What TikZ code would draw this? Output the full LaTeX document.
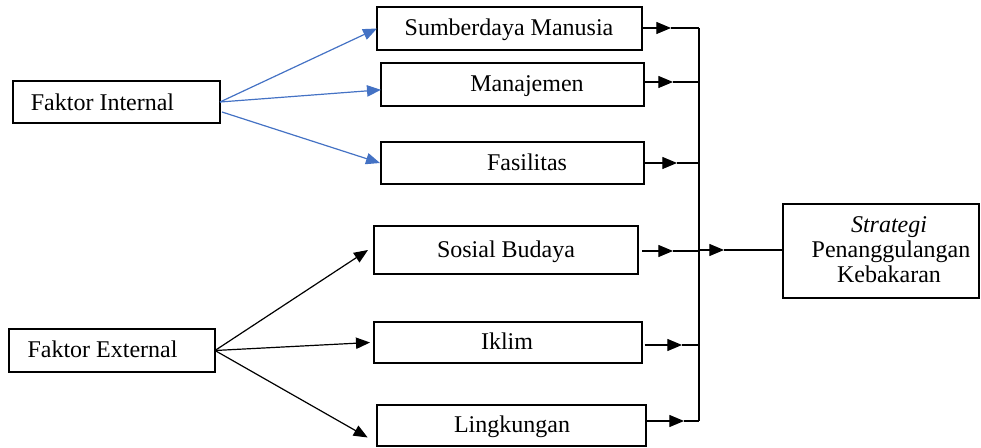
\documentclass[tikz,border=0pt]{standalone}
\usepackage{fontspec}
\setmainfont{Liberation Serif}
\usetikzlibrary{arrows.meta}
\definecolor{wblue}{RGB}{68,114,196}
\newcommand\mainfs{\fontsize{18pt}{20pt}\selectfont}
\begin{document}
\begin{tikzpicture}[x=0.75pt,y=-0.75pt,
  box/.style={draw, line width=0.9pt, inner sep=0pt, outer sep=0pt},
  txt/.style={font=\mainfs, inner sep=0pt, anchor=base},
  conn/.style={line width=0.9pt},
  tip/.style={-{Triangle[length=11pt,width=9pt]}},
  btip/.style={-{Triangle[length=10.5pt,width=8.5pt]}}]
\useasboundingbox (0,0) rectangle (981,448);
% boxes
\node[box, minimum width=207*0.75pt, minimum height=42*0.75pt] (fi) at (116.5,102) {};
\node[box, minimum width=206*0.75pt, minimum height=43*0.75pt] (fe) at (112,350.5) {};
\node[box, minimum width=265*0.75pt, minimum height=43*0.75pt] (sm) at (509.5,28.5) {};
\node[box, minimum width=263*0.75pt, minimum height=43*0.75pt] (mj) at (512.5,84.5) {};
\node[box, minimum width=263*0.75pt, minimum height=42*0.75pt] (fs) at (512.5,163) {};
\node[box, minimum width=264*0.75pt, minimum height=48*0.75pt] (sb) at (506,250) {};
\node[box, minimum width=268*0.75pt, minimum height=41*0.75pt] (ik) at (508,342.5) {};
\node[box, minimum width=269*0.75pt, minimum height=41*0.75pt] (lk) at (511.5,425.5) {};
\node[box, minimum width=196*0.75pt, minimum height=94*0.75pt] (st) at (881,251) {};
% texts
\node[txt] (fit) at (102.5,111) {Faktor Internal};
\node[txt] (fet) at (102.5,358) {Faktor External};
\node[txt] (smt) at (509,36) {Sumberdaya Manusia};
\node[txt] (mjt) at (527,92) {Manajemen};
\node[txt] (fst) at (527,170.5) {Fasilitas};
\node[txt] (sbt) at (506,257.5) {Sosial Budaya};
\node[txt] (ikt) at (507,350) {Iklim};
\node[txt] (lkt) at (512,433) {Lingkungan};
\node[txt] (st1) at (889,233) {\itshape Strategi};
\node[txt] (st2) at (891,258) {Penanggulangan};
\node[txt] (st3) at (889,283) {Kebakaran};
% left connectors
\draw[conn, wblue, btip] (fi.east) -- (sm.west);
\draw[conn, wblue, btip] (fi.east) -- ([yshift=-4pt]mj.west);
\draw[conn, wblue, btip] ([xshift=1.5pt,yshift=-7.5pt]fi.east) -- ([xshift=-0.75pt]fs.west);
\draw[conn, btip] (fe.east) -- ([xshift=-4.5pt]sb.west);
\draw[conn, btip] (fe.east) -- ([xshift=-3pt]ik.west);
\draw[conn, btip] (fe.east) -- ([xshift=-7pt,yshift=-9pt]lk.west);
% right collector
\coordinate (t1) at (671,28);  \coordinate (v1) at (699,28);
\coordinate (t2) at (673,82);  \coordinate (v2) at (699,82);
\coordinate (t3) at (677,163); \coordinate (v3) at (699,163);
\coordinate (t4) at (673,251); \coordinate (v4) at (699,251);
\coordinate (t5) at (682,345); \coordinate (v5) at (699,345);
\coordinate (t6) at (684,421); \coordinate (v6) at (699,421);
\coordinate (vo) at (699,250); \coordinate (t7) at (724,250);
\draw[conn, tip] (sm.east |- t1) -- (t1);
\draw[conn] (t1) -- (v1);
\draw[conn, tip] (mj.east |- t2) -- (t2);
\draw[conn] (t2) -- (v2);
\draw[conn, tip] (fs.east |- t3) -- (t3);
\draw[conn] (t3) -- (v3);
\draw[conn, tip] ([xshift=3pt]sb.east |- t4) -- (t4);
\draw[conn] (t4) -- (v4);
\draw[conn, tip] ([xshift=2pt]ik.east |- t5) -- (t5);
\draw[conn] (t5) -- (v5);
\draw[conn, tip] (lk.east |- t6) -- (t6);
\draw[conn] (t6) -- (v6);
\draw[conn] (v1) -- (v6);
\draw[conn, tip] (vo) -- (t7);
\draw[conn] (t7) -- (st.west |- t7);
\end{tikzpicture}
\end{document}
